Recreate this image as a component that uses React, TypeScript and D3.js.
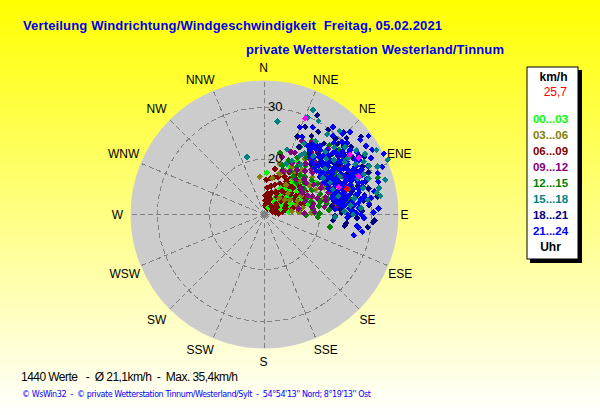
import React, { useEffect, useRef } from 'react';
import * as d3 from 'd3';

const directions = ['N', 'NNE', 'NE', 'ENE', 'E', 'ESE', 'SE', 'SSE', 'S', 'SSW', 'SW', 'WSW', 'W', 'WNW', 'NW', 'NNW'];
const ringValues = [20, 30];
const legendLabels = ['00...03', '03...06', '06...09', '09...12', '12...15', '15...18', '18...21', '21...24'];
const legendColors = ['#00ff00', '#808000', '#800000', '#800080', '#008000', '#008080', '#000080', '#0000ff'];

// [direction in degrees, speed in km/h]
const h00: number[][] = [
  [3, 17.4], [84, 14], [71, 15.3], [32, 21.4], [26, 19.9], [77, 18], [28, 10.8], [45, 11.6], [46, 13.1], [44, 14.6], [46, 16.2], [45, 17.7], [44, 19.2],
  [55, 12.2], [54, 13.7], [56, 15.3], [55, 16.9], [54, 18.5], [56, 20.1], [38, 12.4], [37, 14.1], [39, 15.8], [38, 17.5], [62, 13], [63, 14.6], [61, 16.4],
  [62, 18], [63, 19.6], [69, 12.6], [70, 14.4], [68, 17], [50, 12.8], [51, 15], [49, 17.2], [50, 19.4], [33, 13.2], [31, 15.2], [58, 21], [48, 21.6], [42, 20.8],
];
const h03: number[][] = [
  [353, 16.7], [17, 19.5], [77, 19], [86, 16], [12, 16.5], [20, 17.8], [25, 18.6], [30, 20], [35, 19.2], [40, 20.6], [46, 20], [52, 21], [58, 19.7], [64, 20.4],
  [70, 19], [80, 16.8], [83, 14.6], [74, 15.8], [68, 16.2], [60, 15], [54, 14.2], [48, 15.4], [42, 13.6], [36, 16.4], [63, 17.4], [56, 18.2], [47, 18.6], [39, 18.2],
  [88, 18.4], [75, 21], [66, 22], [44, 23], [36, 22.6],
];
const h06: number[][] = [
  [5, 11], [7, 12.5], [8, 13.5], [6, 14.5], [3, 16], [10, 11.5], [12, 13], [13, 15], [13, 18.3], [16, 12], [18, 13.8], [19, 15.4], [20, 17], [23, 11], [24, 12.6],
  [26, 14.2], [27, 16], [28, 17.6], [30, 18.8], [31, 11.4], [32, 12.8], [34, 14.6], [35, 16.2], [36, 17.8], [37, 19.2], [40, 10.8], [41, 12.2], [42, 14], [43, 15.6],
  [44, 17.2], [45, 18.8], [46, 20], [48, 11.2], [49, 12.6], [50, 14.4], [51, 16], [52, 17.6], [53, 19], [56, 10.9], [57, 12], [58, 13.8], [59, 15.4], [60, 17], [61, 18.4],
  [64, 11.6], [65, 13.2], [66, 14.8], [67, 16.4], [68, 18], [72, 11], [73, 12.4], [74, 14], [75, 15.6], [76, 17], [80, 11.4], [81, 12.8], [82, 14.2], [84, 16], [2, 13], [4, 12],
  [9, 16.4], [15, 16.8], [22, 18.6], [33, 15.4], [38, 13.2], [47, 13.8], [55, 14.8], [62, 12.6], [70, 13], [78, 13.4], [86, 12], [11, 10.8], [18, 10.8], [25, 10.6],
];
// the part of the 06...09 points that lies over the 00...03 ones
const h06Late: number[][] = [
  [41, 11.4], [47, 12.4], [53, 11.6], [60, 12.2], [35, 13.4], [42, 15], [48, 14], [52, 13.4], [58, 14.4], [66, 13.8], [72, 13.4], [36, 15], [41, 16.6], [47, 16.8], [53, 15.6],
  [59, 16.4], [65, 15.8], [40, 18.6], [47, 18.2], [52, 18], [58, 17.8], [65, 17.6], [72, 16.4], [34, 17], [30, 14], [77, 15],
];
const h09: number[][] = [
  [17, 20.9], [23, 22.4], [27, 25.3], [80, 16], [85, 23.6], [28, 20.6], [32, 23], [34, 21.2], [37, 24.4], [39, 22], [41, 25], [43, 20.8], [45, 23.4], [47, 26], [49, 21.6],
  [51, 24.2], [53, 19.4], [55, 22.6], [57, 25.2], [59, 20.4], [61, 23.6], [63, 26], [65, 21.4], [67, 24.4], [69, 19.2], [71, 22.4], [73, 20], [75, 23.4], [77, 21.4], [79, 24],
  [81, 18.6], [83, 21], [87, 19], [88, 17], [82, 22.6], [24, 18.4], [30, 19], [36, 20], [42, 18.4], [48, 19.6], [54, 18], [60, 17.8], [66, 18.4], [72, 17.6], [78, 19],
  [35, 25.6], [44, 27], [52, 27.4], [58, 26.8], [64, 27.6], [70, 26], [76, 25.4], [40, 23.2], [46, 21.8], [56, 23.8], [62, 21.8], [68, 22.8], [74, 21.6], [26, 22.6], [33, 26],
];
const h12: number[][] = [
  [14, 21.6], [33, 26.3], [101, 22.2], [89, 20], [72, 32.3], [86, 21.8], [83, 23.4], [80, 21.6], [78, 24.4], [76, 22], [74, 25.4], [72, 23], [70, 20.8], [68, 24.8], [66, 26.4],
  [64, 22.6], [62, 25], [60, 21.2], [58, 23.8], [56, 26.2], [54, 20.6], [52, 23], [50, 25.4], [48, 27], [46, 22.2], [44, 24.6], [42, 19.6], [40, 21.6], [38, 25.4], [36, 23],
  [34, 20.4], [30, 22], [28, 24], [24, 20.8], [20, 19.4], [31, 19], [37, 18.6], [45, 18], [51, 19.2], [57, 18.4], [63, 19.6], [69, 18.2], [75, 18.6], [81, 20], [84, 18.8], [88, 19],
  [91, 17.4], [93, 19.6], [85, 24], [79, 26], [67, 28.4], [61, 27.6], [55, 28], [49, 28.4], [43, 27.6], [71, 27], [82, 25.4], [77, 20.4], [59, 25.2], [53, 24.8], [47, 20], [41, 23.4],
];
const h15: number[][] = [
  [8, 27.5], [343, 20.9], [25, 31.6], [24, 29.8], [30, 30.2], [82, 29.4], [79, 31.4], [66, 35.4], [60, 34.3], [29, 25], [35, 26.6], [33, 23.4], [38, 29], [42, 31], [46, 28],
  [48, 25.4], [50, 29.6], [53, 24], [55, 31], [57, 27.8], [59, 32], [61, 29.4], [63, 25.6], [65, 31.6], [67, 33], [69, 28.6], [71, 30.6], [73, 26.2], [75, 29], [77, 32], [80, 27],
  [84, 26], [86, 28], [88, 24.8], [90, 26.4], [92, 23], [76, 24], [70, 23.4], [64, 23.4], [58, 22.6], [52, 26.4], [44, 26.2], [40, 24], [36, 21.2], [31, 22.6], [27, 21], [23, 20],
  [19, 22.6], [81, 32], [74, 33.6], [68, 30], [62, 31], [56, 28.8],
];
const h18: number[][] = [
  [28, 31], [23, 25.7], [96, 25.2], [93, 30.6], [94, 30.4], [33, 28.4], [51, 33.3], [97, 29.4], [98, 25], [90, 26], [88, 28.2], [86, 24], [84, 26.6], [82, 28.6], [80, 25],
  [78, 27.6], [76, 30], [74, 24.2], [72, 26.4], [70, 28.4], [68, 31], [66, 25], [64, 27], [62, 29.2], [60, 31.6], [58, 24.6], [56, 26.4], [54, 28.6], [52, 30.6], [50, 24.4],
  [48, 26.6], [46, 29], [44, 31.4], [42, 25], [40, 27.2], [38, 26], [36, 24], [34, 25.6], [31, 27], [27, 24], [25, 28], [92, 27.2], [89, 24.2], [85, 29.6], [81, 31.4], [77, 24.8],
  [73, 28.2], [69, 23.6], [65, 29], [61, 23.4], [57, 29.6], [53, 26], [49, 29.6], [45, 25.2], [41, 29.4], [37, 29.8], [95, 22.6], [91, 23], [87, 26], [83, 22.4], [79, 23],
  [75, 26.8], [71, 25], [67, 27.2], [63, 24.2], [59, 27.8], [55, 24], [51, 27.6], [47, 23.6], [43, 22.6],
  [43, 29.4], [47, 31], [52, 28.6], [58, 30.8], [64, 30.4], [72, 29.8], [79, 29], [88, 26.6],
];
const h21: number[][] = [
  [22, 27.5], [29, 28.6], [38, 30.8], [46, 32.3], [53, 34.5], [63, 35.2], [68, 33.9], [97, 27.3], [100, 28.5], [89, 30.4], [90, 28], [86, 25.8], [103, 27], [98, 27.7], [87, 31.4],
  [88, 26.4], [44, 31], [49, 30.5], [52, 32.8], [56, 33], [59, 33.6], [62, 32.6], [65, 31.4], [70, 32.6], [74, 32.2], [78, 31], [81, 30.2], [84, 29.6], [41, 29.5],
  [26, 26], [30, 25], [35, 24.5], [35, 26], [38, 23.5], [38, 25.4], [41, 24], [41, 25.8], [44, 23], [44, 24.8], [44, 26.6], [44, 28.6],
  [47, 22.6], [47, 24.4], [47, 26.2], [47, 28], [47, 29.8], [50, 22.4], [50, 24], [50, 25.8], [50, 27.6], [50, 29.4], [53, 22.8], [53, 24.6], [53, 26.4], [53, 28.2], [53, 30],
  [56, 22.2], [56, 24], [56, 25.6], [56, 27.4], [56, 29], [56, 30.8], [59, 22.8], [59, 24.6], [59, 26.2], [59, 28], [59, 29.8], [62, 22.4], [62, 24.2],
  [62, 26], [62, 27.6], [62, 29.4], [65, 23], [65, 24.8], [65, 26.6], [65, 28.2], [65, 30], [68, 22.6], [68, 24.4], [68, 26.2], [68, 28], [68, 29.6], [71, 23.2],
  [71, 25], [71, 26.8], [71, 28.4], [71, 30.2], [74, 23.6], [74, 25.4], [74, 27.2], [74, 29], [77, 22.8], [77, 24.6], [77, 26.2], [77, 28], [80, 23.4], [80, 25.2],
  [80, 27], [80, 28.8], [83, 24], [83, 25.8], [83, 27.6], [86, 23], [86, 27.6], [89, 25.2], [89, 27], [92, 25.4], [92, 28.6],
  [42, 23], [45, 25.6], [48, 23.4], [48, 27.2], [51, 25], [51, 28.6], [54, 23.6], [54, 27], [54, 29.6], [57, 23], [57, 25], [57, 28.2], [60, 23.8], [60, 27], [60, 30.4],
  [63, 23.2], [63, 25.2], [63, 28.6], [66, 24], [66, 27.4], [66, 29.2], [69, 23.6], [69, 25.4], [69, 27.2], [72, 24.2], [72, 26], [72, 29.2], [75, 23], [75, 24.8],
  [75, 28.2], [78, 23.8], [78, 25.6], [78, 27.4], [81, 24.4], [81, 26.4], [81, 28.2], [84, 24.8], [84, 26.8], [36, 25.4], [39, 26.4], [33, 25],
];
const highlights: number[][] = [[23, 29.5], [55, 29.4], [59, 30.6], [70, 24.6], [68, 29]];
const current: number[][] = [[73, 26]];

// drawing order, bottom to top
const layers: [number[][], string][] = [
  [h06, '#800000'],
  [h00, '#00ff00'],
  [h06Late, '#800000'],
  [h03, '#808000'],
  [h12, '#008000'],
  [h09, '#800080'],
  [h18, '#000080'],
  [h21, '#0000ff'],
  [h15, '#008080'],
  [highlights, '#ff00ff'],
  [current, '#ff0000'],
];

// label shifts for the direction names, same order as directions
const labelDx = [0, 6, 0, 0, -3, 1, 0, 6, 0, -7, -3, -3, 1, -4, -3, -7];
const labelDy = [0, 1, -2, -4, 0, 3, 2, 0, 0, 0, 2, 3, 0, -4, -2, 1];

const App: React.FC = () => {
  const svgRef = useRef<SVGSVGElement>(null);

  useEffect(() => {
    const svg = d3.select(svgRef.current);
    svg.selectAll('*').remove();

    const width = 600;
    const height = 415;
    const cx = 264.5;
    const cy = 214.5;
    const outer = 134;
    const font = '"Liberation Sans", Arial, sans-serif';

    const r = d3.scaleLinear().domain([10, 35.4]).range([3.5, 135]);
    const angle = d3.scaleLinear().domain([0, 360]).range([0, 2 * Math.PI]);
    const diamond = d3.symbol().type(d3.symbolDiamond2).size(28);

    const defs = svg.append('defs');
    const grad = defs.append('linearGradient').attr('id', 'bg').attr('x1', 0).attr('x2', 0).attr('y1', 0).attr('y2', 1);
    grad.append('stop').attr('offset', '0%').attr('stop-color', '#ffff00');
    grad.append('stop').attr('offset', '100%').attr('stop-color', '#ffffff');

    const dots = defs.append('pattern').attr('id', 'dots').attr('width', 3).attr('height', 3).attr('patternUnits', 'userSpaceOnUse');
    dots.append('rect').attr('width', 3).attr('height', 3).attr('fill', '#cdcdcd');
    dots.append('rect').attr('width', 1).attr('height', 1).attr('fill', '#c4c4c4');

    svg.append('rect').attr('width', width).attr('height', height).attr('fill', 'url(#bg)');

    // title
    svg.append('text').attr('x', 23).attr('y', 30).attr('textLength', 419)
      .style('white-space', 'pre')
      .attr('font-family', font).attr('font-weight', 'bold').attr('font-size', 13).attr('fill', '#0000f0')
      .text('Verteilung Windrichtung/Windgeschwindigkeit  Freitag, 05.02.2021');
    svg.append('text').attr('x', 246).attr('y', 54).attr('textLength', 258)
      .attr('font-family', font).attr('font-weight', 'bold').attr('font-size', 13).attr('fill', '#0000f0')
      .text('private Wetterstation Westerland/Tinnum');

    // polar grid
    const plot = svg.append('g').attr('transform', `translate(${cx},${cy})`);
    plot.append('circle').attr('r', outer).attr('fill', 'url(#dots)');

    plot.selectAll('circle.ring').data(ringValues).join('circle').attr('class', 'ring')
      .attr('r', d => r(d)).attr('fill', 'none').attr('stroke', '#808080').attr('stroke-dasharray', '5 3')
      .attr('shape-rendering', 'crispEdges');

    plot.selectAll('line.spoke').data(directions).join('line').attr('class', 'spoke')
      .each(function (_, i) {
        const [x, y] = d3.pointRadial(angle(i * 22.5), outer - 1);
        d3.select(this).attr('x2', x).attr('y2', y);
      })
      .attr('stroke', '#808080').attr('stroke-dasharray', '5 3').attr('shape-rendering', 'crispEdges');

    plot.append('rect').attr('x', -3).attr('y', -3).attr('width', 6).attr('height', 6).attr('fill', '#808080');

    // direction labels
    plot.selectAll('text.dir').data(directions).join('text').attr('class', 'dir')
      .each(function (d, i) {
        const [x, y] = d3.pointRadial(angle(i * 22.5), 147);
        d3.select(this)
          .attr('x', x - 1 + labelDx[i] + (d === 'E' ? -3 : 0))
          .attr('y', y + 4 + labelDy[i]);
      })
      .attr('text-anchor', 'middle').attr('font-family', font).attr('font-size', 12).attr('fill', '#000')
      .text(d => d);

    // points
    layers.forEach(([values, color]) => {
      plot.append('g').selectAll('path').data(values).join('path')
        .attr('d', diamond)
        .attr('transform', d => {
          const [x, y] = d3.pointRadial(angle(d[0]), r(d[1]));
          return `translate(${x},${y})`;
        })
        .attr('fill', color)
        .attr('shape-rendering', 'crispEdges');
    });

    plot.selectAll('text.ring').data(ringValues).join('text').attr('class', 'ring')
      .attr('x', 3.5).attr('y', d => -r(d) + 3.5)
      .attr('font-family', font).attr('font-size', 13).attr('fill', '#000')
      .text(d => d);

    // legend
    const legendX = 527;
    const legendY = 67;
    const legendW = 51;
    const legendH = 192;
    svg.append('rect').attr('x', legendX + 3).attr('y', legendY + 3).attr('width', legendW + 1).attr('height', legendH + 1).attr('fill', '#000');
    svg.append('rect').attr('x', legendX).attr('y', legendY).attr('width', legendW).attr('height', legendH)
      .attr('fill', '#fff').attr('stroke', '#000');

    const mid = legendX + legendW / 2 - 2;
    svg.append('text').attr('x', mid + 3).attr('y', 81).attr('text-anchor', 'middle')
      .attr('font-family', font).attr('font-weight', 'bold').attr('font-size', 12).text('km/h');
    svg.append('text').attr('x', 567).attr('y', 96).attr('text-anchor', 'end')
      .attr('font-family', font).attr('font-size', 12).attr('fill', '#ff0000').text('25,7');

    svg.append('g').selectAll('text').data(legendLabels).join('text')
      .attr('x', mid).attr('y', (_, i) => 123 + i * 16).attr('text-anchor', 'middle')
      .attr('font-family', font).attr('font-weight', 'bold').attr('font-size', 11.5)
      .attr('fill', (_, i) => legendColors[i])
      .text(d => d);

    svg.append('text').attr('x', mid).attr('y', 251).attr('text-anchor', 'middle')
      .attr('font-family', font).attr('font-weight', 'bold').attr('font-size', 12).text('Uhr');

    // footer
    svg.append('text').attr('x', 21).attr('y', 381).attr('textLength', 217).style('white-space', 'pre')
      .attr('font-family', font).attr('font-size', 12).attr('fill', '#000')
      .text('1440 Werte   -  Ø 21,1km/h  -  Max. 35,4km/h');
    svg.append('text').attr('x', 22).attr('y', 397).attr('textLength', 349).style('white-space', 'pre')
      .attr('font-family', '"DejaVu Sans", sans-serif').attr('font-size', 8).attr('fill', '#0000ff')
      .text("© WsWin32  -  © private Wetterstation Tinnum/Westerland/Sylt  -  54°54'13'' Nord; 8°19'13'' Ost");
  }, []);

  return <svg ref={svgRef} width={600} height={415} style={{ position: 'absolute', left: 0, top: 0, display: 'block' }} />;
};

export default App;
